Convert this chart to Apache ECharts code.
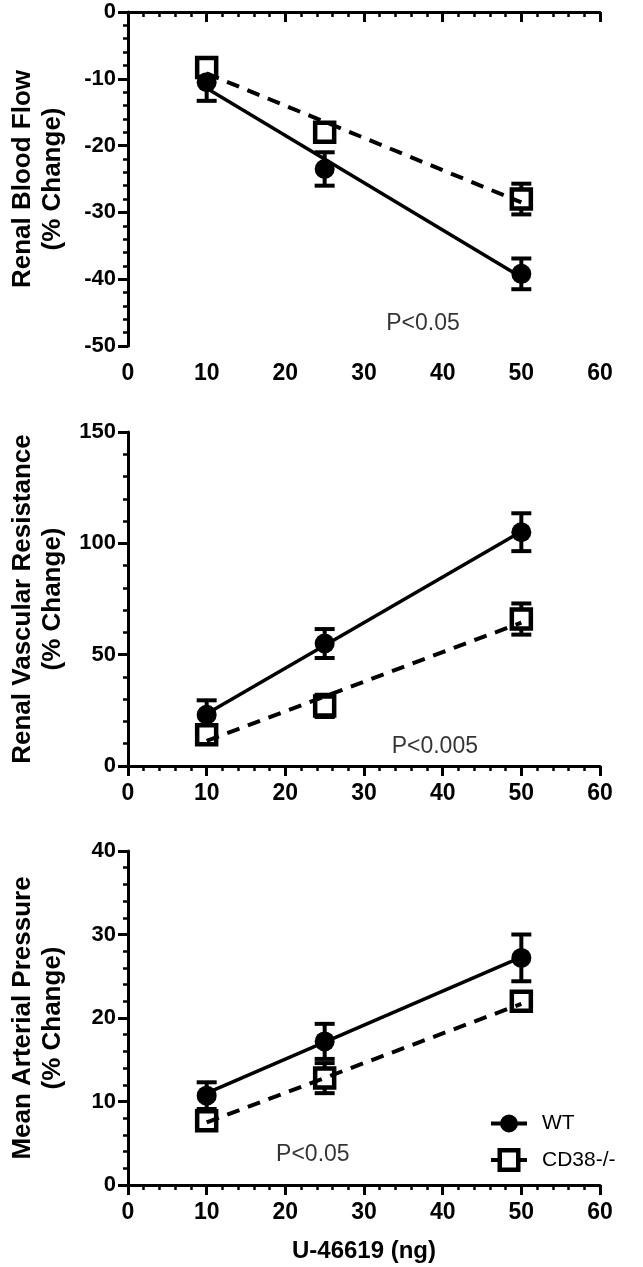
<!DOCTYPE html>
<html><head><meta charset="utf-8">
<script src="https://cdn.jsdelivr.net/npm/echarts@6/dist/echarts.min.js"></script>
<style>html,body{margin:0;padding:0;background:#fff}#c{width:643px;height:1267px}</style>
</head><body><div id="c"></div>
<script>
const doses = [10, 25, 50];
const xTicks = [0, 10, 20, 30, 40, 50, 60];

// Panel 1: Renal Blood Flow
const rbfWT = [-10.5, -23.5, -39.2];
const rbfWTerr = [2.8, 2.5, 2.3];
const rbfKO = [-8.3, -18.0, -28.0];
const rbfKOerr = [1.2, 1.0, 2.3];
const rbfFitWT = [[10, -11.4], [50, -39.7]];
const rbfFitKO = [[10, -9.2], [50, -28.5]];

// Panel 2: Renal Vascular Resistance
const rvrWT = [23, 55, 105];
const rvrWTerr = [6.5, 6.5, 8.5];
const rvrKO = [14, 27, 66];
const rvrKOerr = [3, 5, 7];
const rvrFitWT = [[10, 23.5], [50, 105.3]];
const rvrFitKO = [[10, 11.3], [50, 64.4]];

// Panel 3: Mean Arterial Pressure
const mapWT = [10.7, 17.2, 27.2];
const mapWTerr = [1.6, 2.1, 2.8];
const mapKO = [7.7, 12.8, 22.0];
const mapKOerr = [1.0, 1.8, 0.8];
const mapFitWT = [[10, 11.0], [50, 27.3]];
const mapFitKO = [[10, 7.5], [50, 21.7]];

const panelNames = ['Renal Blood Flow\n(% Change)', 'Renal Vascular Resistance\n(% Change)', 'Mean Arterial Pressure\n(% Change)'];
const pLabels = ['P<0.05', 'P<0.005', 'P<0.05'];
const pPos = [[37.5, -46.7], [39, 8.5], [23.5, 3.6]];
const yRanges = [[-50, 0, 10], [0, 150, 50], [0, 40, 10]];
const xName = 'U-46619 (ng)';
const legendNames = ['WT', 'CD38-/-'];

const FONT = 'Liberation Sans, Arial, sans-serif';
const tops = [12, 432, 851];
const H = 334;

const grids = tops.map(t => ({left: 125, width: 475, top: t, height: H}));
const xAxes = tops.map((t, i) => ({
  type: 'value', gridIndex: i, min: 0, max: 60, interval: 10,
  axisLine: {lineStyle: {color: '#000', width: 3}},
  axisTick: {length: 10, lineStyle: {width: 3, color: '#000'}},
  minorTick: {show: true, splitNumber: 5, length: 5, lineStyle: {width: 2.5, color: '#000'}},
  splitLine: {show: false},
  axisLabel: {color: '#000', fontFamily: FONT, fontWeight: 'bold', fontSize: 23, margin: 16},
  name: i === 2 ? xName : '', nameLocation: 'middle', nameGap: 54,
  nameTextStyle: {color: '#000', fontFamily: FONT, fontWeight: 'bold', fontSize: 24}
}));
const yAxes = yRanges.map((r, i) => ({
  type: 'value', gridIndex: i, min: r[0], max: r[1], interval: r[2],
  axisLine: {show: true, lineStyle: {color: '#000', width: 3}},
  axisTick: {show: true, length: 10, lineStyle: {width: 3, color: '#000'}},
  minorTick: {show: true, splitNumber: 5, length: 5, lineStyle: {width: 2.5, color: '#000'}},
  splitLine: {show: false},
  axisLabel: {color: '#000', fontFamily: FONT, fontWeight: 'bold', fontSize: 22, margin: 12},
  name: panelNames[i], nameLocation: 'middle', nameGap: 60, nameRotate: 90,
  nameTextStyle: {color: '#000', fontFamily: FONT, fontWeight: 'bold', fontSize: 26, lineHeight: 30}
}));

function errData(vals, errs) { return doses.map((d, k) => [d, vals[k] - errs[k], vals[k] + errs[k]]); }
function errSeries(i, vals, errs) {
  return {
    type: 'custom', xAxisIndex: i, yAxisIndex: i, z: 1, silent: true,
    data: errData(vals, errs),
    encode: {x: 0, y: [1, 2]},
    renderItem: function (params, api) {
      const lo = api.coord([api.value(0), api.value(1)]);
      const hi = api.coord([api.value(0), api.value(2)]);
      const hw = 10;
      const st = {stroke: '#000', lineWidth: 4};
      return {type: 'group', children: [
        {type: 'line', shape: {x1: lo[0], y1: lo[1], x2: hi[0], y2: hi[1]}, style: st},
        {type: 'line', shape: {x1: lo[0] - hw, y1: lo[1], x2: lo[0] + hw, y2: lo[1]}, style: st},
        {type: 'line', shape: {x1: hi[0] - hw, y1: hi[1], x2: hi[0] + hw, y2: hi[1]}, style: st}
      ]};
    }
  };
}
function pts(vals) { return doses.map((d, k) => [d, vals[k]]); }
function koSeries(i, vals) {
  return {name: legendNames[1], type: 'scatter', xAxisIndex: i, yAxisIndex: i, z: 2, data: pts(vals),
    symbol: 'rect', symbolSize: 19, itemStyle: {color: '#fff', borderColor: '#000', borderWidth: 4.5, opacity: 1}};
}
function wtSeries(i, vals) {
  return {name: legendNames[0], type: 'scatter', xAxisIndex: i, yAxisIndex: i, z: 3, data: pts(vals),
    symbol: 'circle', symbolSize: 20, itemStyle: {color: '#000', opacity: 1}};
}
function fitSeries(i, data, dashed) {
  return {type: 'line', xAxisIndex: i, yAxisIndex: i, z: 4, data: data, showSymbol: false, silent: true,
    lineStyle: {color: '#000', width: dashed ? 4 : 3.5, type: dashed ? [13, 9] : 'solid'}};
}
function pSeries(i) {
  return {type: 'scatter', xAxisIndex: i, yAxisIndex: i, data: [pPos[i]], symbolSize: 0, silent: true,
    label: {show: true, position: 'inside', formatter: pLabels[i], color: '#000', fontFamily: FONT, fontSize: 23}};
}

const series = [];
const sets = [[rbfWT, rbfWTerr, rbfKO, rbfKOerr, rbfFitWT, rbfFitKO],
              [rvrWT, rvrWTerr, rvrKO, rvrKOerr, rvrFitWT, rvrFitKO],
              [mapWT, mapWTerr, mapKO, mapKOerr, mapFitWT, mapFitKO]];
sets.forEach((s, i) => {
  series.push(errSeries(i, s[2], s[3]));
  series.push(errSeries(i, s[0], s[1]));
  series.push(koSeries(i, s[2]));
  series.push(wtSeries(i, s[0]));
  series.push(fitSeries(i, s[4], false));
  series.push(fitSeries(i, s[5], true));
  series.push(pSeries(i));
});

// Legend icons: all sub-paths drawn clockwise so overlaps stay filled
const wtIcon = 'path://M0,7h10v4h-10z M26,7h10v4h-10z M9,9a9,9 0 1,1 18,0a9,9 0 1,1 -18,0z';
const koIcon = 'path://M0,10h10v4h-10z M26,10h10v4h-10z M6.5,0h23v4.5h-23z M6.5,19.5h23v4.5h-23z M6.5,0h4.5v24h-4.5z M25,0h4.5v24h-4.5z';

const chart = echarts.init(document.getElementById('c'), null, {renderer: 'canvas'});
chart.setOption({
  animation: false,
  backgroundColor: '#fff',
  grid: grids, xAxis: xAxes, yAxis: yAxes, series: series,
  legend: {
    orient: 'vertical', left: 486, top: 1108, itemGap: 14, itemWidth: 36, itemHeight: 24,
    selectedMode: false, symbolKeepAspect: true,
    textStyle: {color: '#000', fontFamily: FONT, fontSize: 21, padding: [0, 0, 0, 10]},
    data: [{name: legendNames[0], icon: wtIcon, itemStyle: {color: '#000', borderWidth: 0}},
           {name: legendNames[1], icon: koIcon, itemStyle: {color: '#000', borderWidth: 0}}]
  }
});
</script></body></html>
